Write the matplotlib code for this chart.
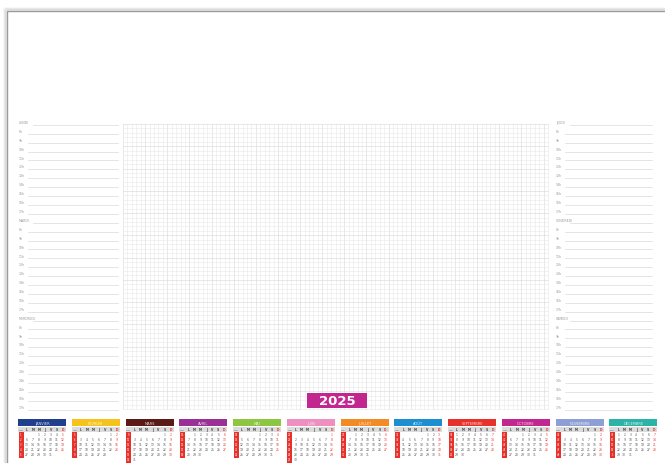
import matplotlib.pyplot as plt
from matplotlib.patches import Rectangle

# planner contents
left_days = ["LUNDI", "MARDI", "MERCREDI"]
right_days = ["JEUDI", "VENDREDI", "SAMEDI"]
hours = ["8h", "9h", "10h", "11h", "12h", "13h", "14h", "15h", "16h", "17h"]
year = "2025"

months = ["JANVIER", "FÉVRIER", "MARS", "AVRIL", "MAI", "JUIN", "JUILLET",
          "AOÛT", "SEPTEMBRE", "OCTOBRE", "NOVEMBRE", "DÉCEMBRE"]
month_colors = ["#1f3f8f", "#f6c21c", "#5c1a17", "#9a2f95", "#8dc641", "#ef8fc0",
                "#f28a26", "#1b8fd2", "#e8312b", "#c2268f", "#8d9fd6", "#2bb3a6"]
first_wday = [2, 5, 5, 1, 3, 6, 1, 4, 0, 2, 5, 0]   # 0 = lundi
n_days = [31, 28, 31, 30, 31, 30, 31, 31, 30, 31, 30, 31]
first_week = [1, 5, 9, 14, 18, 22, 27, 31, 36, 40, 44, 49]
wday_labels = ["L", "M", "M", "J", "V", "S", "D"]

fig = plt.figure(figsize=(6.65, 4.64), dpi=100)
ax = fig.add_axes([0, 0, 1, 1])
ax.set_xlim(0, 665)
ax.set_ylim(464, 0)
ax.axis("off")

# page + shadow
for i, a in enumerate([0.04, 0.07, 0.1]):
    ax.add_patch(Rectangle((7 - 3 + i, 12 - 3 + i), 670, 460, fc="none", ec="#000000", lw=1.2, alpha=a))
ax.add_patch(Rectangle((7, 12), 670, 460, fc="white", ec="#9a9a9a", lw=1.0))

# day/hour lists
row_h = 8.9
def day_list(days, x0, x1):
    y = 125
    for d in days:
        rows = [d] + hours
        for r in rows:
            ax.text(x0, y, r, fontsize=2.3, color="#9a9a9a", va="bottom", ha="left")
            ax.plot([x0 + (9 if r != d else 14), x1], [y + 0.8, y + 0.8], color="#dadada", lw=0.5)
            y += row_h

day_list(left_days, 19, 118)
day_list(right_days, 556, 652)

# grid
gx0, gx1, gy0, gy1 = 123, 548, 125, 410
ncol, nrow = 96, 64
cw = (gx1 - gx0) / ncol
ch = (gy1 - gy0) / nrow
for i in range(ncol + 1):
    c = "#d6d6d6" if i % 5 == 0 else "#e8e8e8"
    ax.plot([gx0 + i * cw] * 2, [gy0, gy1], color=c, lw=0.4)
for j in range(nrow + 1):
    c = "#d6d6d6" if j % 5 == 0 else "#e8e8e8"
    ax.plot([gx0, gx1], [gy0 + j * ch] * 2, color=c, lw=0.4)

# year tag
ax.add_patch(Rectangle((307, 394), 60, 15, fc="#c2268f", ec="none", zorder=5))
ax.text(337, 402, year, fontsize=9.5, color="white", fontweight="bold", ha="center", va="center", zorder=6)

# mini calendars
for m in range(12):
    x = 18 + m * 53.75
    colw = 6.0
    ax.add_patch(Rectangle((x, 420), 48, 7, fc=month_colors[m], ec="none"))
    ax.text(x + 24, 423.6, months[m], fontsize=2.6, color="white", ha="center", va="center", alpha=0.8)
    ax.add_patch(Rectangle((x, 428), 48, 4.5, fc="#dcdcdc", ec="none"))
    ax.text(x + 3, 430.3, "SEM", fontsize=1.6, color="#666666", ha="center", va="center")
    for k, w in enumerate(wday_labels):
        col = "#e8312b" if k == 6 else "#444444"
        ax.text(x + colw * (k + 1) + 3, 430.3, w, fontsize=2.2, color=col, ha="center", va="center", fontweight="bold")
    nweeks = (first_wday[m] + n_days[m] + 6) // 7
    ax.add_patch(Rectangle((x + 0.5, 433), 5, nweeks * 5.0 + 1, fc="#e8312b", ec="none"))
    for wk in range(nweeks):
        wn = (first_week[m] + wk - 1) % 52 + 1
        ax.text(x + 3, 435.5 + wk * 5.0, str(wn), fontsize=1.8, color="white", ha="center", va="center")
    for d in range(n_days[m]):
        pos = first_wday[m] + d
        r, c = divmod(pos, 7)
        col = "#e8312b" if c == 6 else "#555555"
        ax.text(x + colw * (c + 1) + 3, 435.5 + r * 5.0, str(d + 1), fontsize=2.2, color=col, ha="center", va="center")

fig.savefig("out.png", dpi=100)
